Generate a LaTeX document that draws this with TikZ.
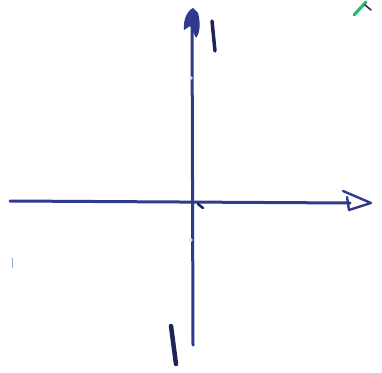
\documentclass[tikz,border=0pt]{standalone}
\definecolor{ink}{RGB}{48,58,140}
\definecolor{darkink}{RGB}{30,35,90}
\definecolor{greenink}{RGB}{40,190,110}
\definecolor{faint}{RGB}{150,170,215}
\begin{document}
\begin{tikzpicture}[x=1pt,y=-1pt,
  pen/.style={draw=ink,line width=3pt,line cap=round,line join=round},
  thickpen/.style={draw=darkink,line width=4.5pt,line cap=round}]
\useasboundingbox (0,0) rectangle (382,372);
% points
\coordinate (hL) at (10,201);
\coordinate (hR) at (350,203);
\coordinate (vT) at (192,14);
\coordinate (vB) at (193,345);
% horizontal axis
\draw[pen] (hL) -- (hR);
\coordinate (a1) at (343,191);
\coordinate (a2) at (371,203);
\coordinate (a3) at (349,210);
\draw[pen,line width=2.4pt] (a1) -- (a2) -- (a3) -- (347,197);
% vertical axis
\draw[pen] (vB) -- (vT);
\fill[ink] (193,8) .. controls (187,11) and (183,20) .. (184,30) -- (190,26) -- (196,38) .. controls (201,32) and (200,20) .. (198,13) -- cycle;
% small strokes near axis
\draw[thickpen,line width=3.5pt] (212,21) -- (215,51);
\draw[thickpen] (171,326) -- (176,364);
% center tick
\draw[draw=darkink,line width=2.5pt,line cap=round] (198,204) -- (203,208);
% faint marks
\fill[white!85!ink] (191,78) circle (1.8pt);
\fill[white!85!ink] (191,240) circle (1.8pt);
\draw[faint,line width=1pt] (12,258) -- (12,268);
% green mark
\draw[greenink,line width=3.2pt,line cap=round] (354,15) -- (366,2);
\draw[darkink,line width=1.5pt,line cap=round] (365,5) -- (371,10);
\end{tikzpicture}
\end{document}
